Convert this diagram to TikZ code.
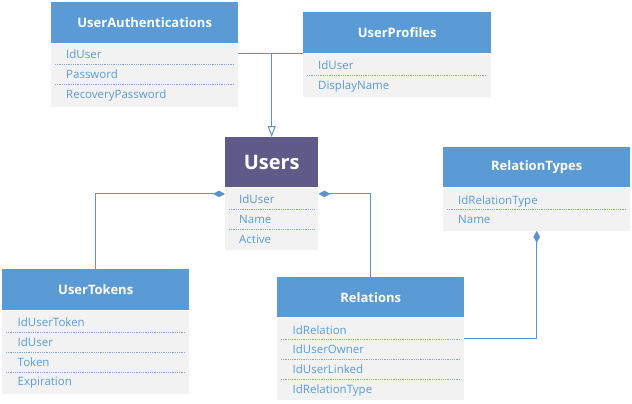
\documentclass[tikz,border=0pt]{standalone}
\usepackage{fontspec}
\setmainfont{Open Sans}
\usetikzlibrary{arrows.meta,calc}
\definecolor{hdrblue}{HTML}{5B9BD5}
\definecolor{hdrpurple}{HTML}{605A88}
\definecolor{bodygray}{HTML}{F2F2F2}
\definecolor{rowtext}{HTML}{5B9BD5}
\definecolor{sepblue}{HTML}{7FAAD8}
\definecolor{connblue}{HTML}{5B93CF}
\begin{document}
\begin{tikzpicture}[x=1pt,y=-1pt,
  hdr/.style={fill=hdrblue,text=white,font=\bfseries\fontsize{13}{15}\selectfont,anchor=north west,inner sep=0pt,minimum width=187pt},
  bodybox/.style={fill=bodygray,anchor=north west,inner sep=0pt,minimum width=187pt},
  rowtxt/.style={anchor=west,inner sep=0pt,text=rowtext,font=\fontsize{11.5}{13}\selectfont,text height=9.5pt,text depth=1pt},
  sepline/.style={draw=sepblue,line width=0.9pt,dash pattern=on 1pt off 0.8pt},
  conn/.style={draw=connblue,line width=1pt},
  diam/.style={-{Diamond[length=12pt,width=6.5pt,fill=connblue]}},
  inh/.style={-{Triangle[open,length=11pt,width=8pt,fill=white]}}
]
\useasboundingbox[fill=white] (0,0) rectangle (632,404);

% UserAuthentications
\node[hdr,minimum height=41pt] (ua-h) at (51,2) {UserAuthentications};
\node[bodybox,minimum height=63pt] (ua-b) at (ua-h.south west) {};
\node[rowtxt] (ua-1) at (66,54.5) {IdUser};
\node[rowtxt] (ua-2) at (66,74.5) {Password};
\node[rowtxt] (ua-3) at (66,94) {RecoveryPassword};
\draw[sepline] (55,64.5) -- (235,64.5);
\draw[sepline] (55,84.5) -- (235,84.5);

% UserProfiles
\node[hdr,minimum width=188pt,minimum height=41pt] (up-h) at (303,12) {UserProfiles};
\node[bodybox,minimum width=188pt,minimum height=43pt] (up-b) at (up-h.south west) {};
\node[rowtxt] (up-1) at (318,65) {IdUser};
\node[rowtxt] (up-2) at (318,85) {DisplayName};
\draw[sepline] (307,75) -- (487,75);

% Users
\node[hdr,fill=hdrpurple,minimum width=93pt,minimum height=50pt,font=\bfseries\fontsize{20}{24}\selectfont] (us-h) at (225,137) {Users};
\node[bodybox,minimum width=93pt,minimum height=62pt] (us-b) at (us-h.south west) {};
\node[rowtxt] (us-1) at (239,199) {IdUser};
\node[rowtxt] (us-2) at (239,219) {Name};
\node[rowtxt] (us-3) at (239,239) {Active};
\draw[sepline] (229,209) -- (314,209);
\draw[sepline] (229,229) -- (314,229);

% RelationTypes
\node[hdr,minimum height=40pt] (rt-h) at (443,147) {RelationTypes};
\node[bodybox,minimum height=43pt] (rt-b) at (rt-h.south west) {};
\node[rowtxt] (rt-1) at (458,200) {IdRelationType};
\node[rowtxt] (rt-2) at (458,219.5) {Name};
\draw[sepline] (447,209.5) -- (627,209.5);

% UserTokens
\node[hdr,minimum height=41pt] (ut-h) at (2,269) {UserTokens};
\node[bodybox,minimum height=83pt] (ut-b) at (ut-h.south west) {};
\node[rowtxt] (ut-1) at (17.5,322) {IdUserToken};
\node[rowtxt] (ut-2) at (17.5,342) {IdUser};
\node[rowtxt] (ut-3) at (17.5,362) {Token};
\node[rowtxt] (ut-4) at (17.5,381.5) {Expiration};
\draw[sepline] (6,332) -- (186,332);
\draw[sepline] (6,352) -- (186,352);
\draw[sepline] (6,372) -- (186,372);

% Relations
\node[hdr,minimum height=40pt] (r-h) at (277,277) {Relations};
\node[bodybox,minimum height=82pt] (r-b) at (r-h.south west) {};
\node[rowtxt] (r-1) at (292.5,330) {IdRelation};
\node[rowtxt] (r-2) at (292.5,349.5) {IdUserOwner};
\node[rowtxt] (r-3) at (292.5,369) {IdUserLinked};
\node[rowtxt] (r-4) at (292.5,389) {IdRelationType};
\draw[sepline] (281,339.5) -- (461,339.5);
\draw[sepline] (281,359.5) -- (461,359.5);
\draw[sepline] (281,379) -- (461,379);

% connectors
\draw[conn] (up-h.south west) -- (up-h.south west -| ua-b.east);
\draw[conn,inh] (us-h.north |- up-h.south west) -- (us-h.north);
\draw[conn,diam] (ut-h.north) |- ($(us-b.north west)+(0,6.5)$);
\draw[conn,diam] (r-h.north) |- ($(us-b.north east)+(0,6.5)$);
\draw[conn,diam] ($(r-b.north east)+(0,21.5)$) -| (rt-b.south);
\end{tikzpicture}
\end{document}
